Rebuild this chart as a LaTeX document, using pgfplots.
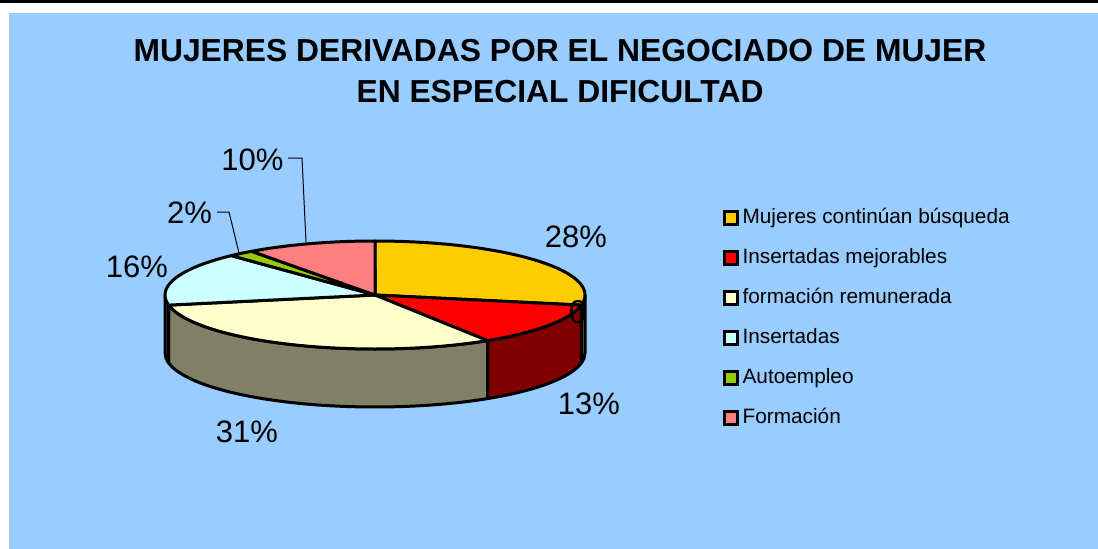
\documentclass[border=0pt]{standalone}
\usepackage{fontspec}
\setmainfont{Liberation Sans}
\usepackage{pgfplots}
\pgfplotsset{compat=1.18}
\definecolor{bgblue}{HTML}{99CCFF}
\definecolor{cYel}{HTML}{FFCC00}
\definecolor{cRed}{HTML}{FF0000}
\definecolor{cCre}{HTML}{FFFFCC}
\definecolor{cCya}{HTML}{CCFFFF}
\definecolor{cGre}{HTML}{99CC00}
\definecolor{cPin}{HTML}{FF8080}
\definecolor{sYel}{HTML}{806600}
\definecolor{sRed}{HTML}{800000}
\definecolor{sCre}{HTML}{808066}
\definecolor{sCya}{HTML}{668080}
% data (percent)
\def\vA{28}\def\vB{13}\def\vC{31}\def\vD{16}\def\vE{2}\def\vF{10}
\def\pcx{375}\def\pcy{295}\def\prx{210}\def\pry{54}\def\pdep{58}
\pgfplotsset{
  sq legend/.style={legend image code/.code={\draw[##1,line width=2.4bp,draw=black] (0bp,-6.5bp) rectangle (13bp,6.5bp);}},
  topface/.style={forget plot, draw=black, line width=3bp, line join=round, samples=80, variable=\t},
}
\newcommand{\topslice}[3]{% from angle #1 to #2 (#1<#2), colour #3
  \addplot[topface, fill=#3, domain=#1:#2] ({\pcx+\prx*cos(\t)},{\pcy-\pry*sin(\t)}) -- (axis cs:\pcx,\pcy) -- cycle;
}
\newcommand{\sideseg}[3]{% from angle #1 to #2 (#1<#2), colour #3
  \addplot[topface, fill=#3, domain=#1:#2] ({\pcx+\prx*cos(\t)},{\pcy-\pry*sin(\t)}) -- (axis cs:{\pcx+\prx*cos(#2)},{\pcy+\pdep-\pry*sin(#2)}) arc[start angle=#2, end angle=#1, x radius=\prx bp, y radius=\pry bp] -- cycle;
}
\begin{document}
\begin{tikzpicture}
\pgfmathsetmacro\aA{90}
\pgfmathsetmacro\aB{\aA-3.6*\vA}
\pgfmathsetmacro\aC{\aB-3.6*\vB}
\pgfmathsetmacro\aD{\aC-3.6*\vC}
\pgfmathsetmacro\aE{\aD-3.6*\vD}
\pgfmathsetmacro\aF{\aE-3.6*\vE}
\pgfmathsetmacro\aG{\aF-3.6*\vF}
\begin{axis}[
  width=1098bp, height=549bp, scale only axis,
  xmin=0, xmax=1098, ymin=0, ymax=549, y dir=reverse,
  hide axis, clip=false,
  legend style={at={(axis cs:720,207)}, anchor=north west, draw=none, fill=none,
    font=\fontsize{20.8bp}{21bp}\selectfont, row sep=22bp, column sep=4bp,
    nodes={inner sep=0pt, text height=14bp, text depth=4bp}},
  legend cell align=left,
]
\fill[white] (axis cs:0,0) rectangle (axis cs:1098,549);
\fill[bgblue] (axis cs:9,13) rectangle (axis cs:1098,549);
\fill[black] (axis cs:0,0) rectangle (axis cs:1098,3);
% sides (front half)
\sideseg{\aB}{0}{sYel}
\sideseg{\aC}{\aB}{sRed}
\sideseg{\aD}{\aC}{sCre}
\sideseg{-180}{\aD}{sCya}
% top faces
\topslice{\aB}{\aA}{cYel}
\topslice{\aC}{\aB}{cRed}
\topslice{\aD}{\aC}{cCre}
\topslice{\aE}{\aD}{cCya}
\topslice{\aF}{\aE}{cGre}
\topslice{\aG}{\aF}{cPin}
% leader lines
\addplot[forget plot, black, line width=1bp] coordinates {(288,158) (302,158) (306,242)};
\addplot[forget plot, black, line width=1bp] coordinates {(217,212) (229,212) (239,253)};
% legend
\addlegendimage{sq legend, fill=cYel}\addlegendentry{Mujeres continúan búsqueda}
\addlegendimage{sq legend, fill=cRed}\addlegendentry{Insertadas mejorables}
\addlegendimage{sq legend, fill=cCre}\addlegendentry{formación remunerada}
\addlegendimage{sq legend, fill=cCya}\addlegendentry{Insertadas}
\addlegendimage{sq legend, fill=cGre}\addlegendentry{Autoempleo}
\addlegendimage{sq legend, fill=cPin}\addlegendentry{Formación}
% title
\node[anchor=base, font=\bfseries\fontsize{31.8bp}{32bp}\selectfont] at (axis cs:560,62) {MUJERES DERIVADAS POR EL NEGOCIADO DE MUJER};
\node[anchor=base, font=\bfseries\fontsize{31.8bp}{32bp}\selectfont] at (axis cs:560,102) {EN ESPECIAL DIFICULTAD};
% data labels
\tikzset{lab/.style={anchor=base, inner sep=0pt, font=\fontsize{31bp}{31bp}\selectfont}}
\node[lab] at (axis cs:576,247) {28\%};
\node[lab] at (axis cs:589,414) {13\%};
\node[lab] at (axis cs:247,442) {31\%};
\node[lab] at (axis cs:137,277) {16\%};
\node[lab] at (axis cs:189.5,223) {2\%};
\node[lab] at (axis cs:252.5,170) {10\%};
\node[lab, font=\fontsize{33bp}{33bp}\selectfont] at (axis cs:578,323) {0};
\end{axis}
\end{tikzpicture}
\end{document}
